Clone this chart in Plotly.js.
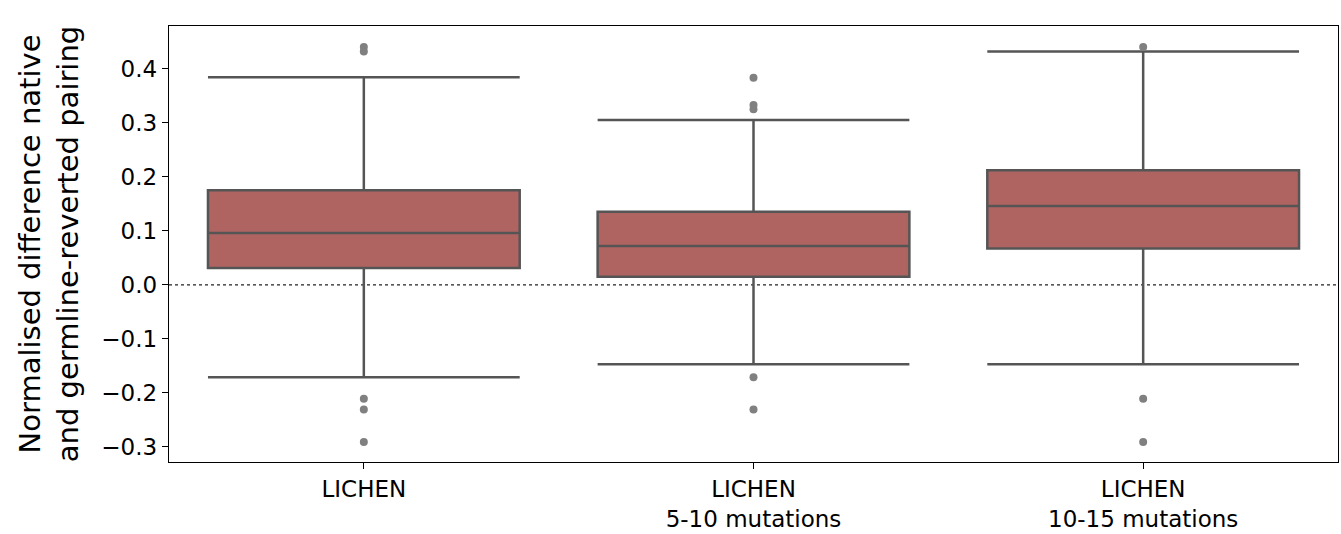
<!DOCTYPE html>
<html>
<head>
<meta charset="utf-8">
<script src="https://cdn.plot.ly/plotly-3.0.1.min.js"></script>
<style>html,body{margin:0;padding:0;background:#fff;}#chart{width:1341px;height:534px;}</style>
</head>
<body>
<div id="chart"></div>
<script>
const categories = ["LICHEN", "LICHEN<br>5-10 mutations", "LICHEN<br>10-15 mutations"];
const q1Values = [0.031, 0.015, 0.067];
const medianValues = [0.096, 0.072, 0.146];
const q3Values = [0.175, 0.135, 0.212];
const lowerWhisker = [-0.171, -0.147, -0.147];
const upperWhisker = [0.384, 0.305, 0.432];
const outlierCategory = [0, 0, 0, 0, 0, 1, 1, 1, 1, 1, 2, 2, 2];
const outlierValues = [0.432, 0.440, -0.211, -0.231, -0.291, 0.383, 0.325, 0.333, -0.171, -0.231, 0.440, -0.211, -0.291];
const tickValues = [-0.3, -0.2, -0.1, 0.0, 0.1, 0.2, 0.3, 0.4];
const tickLabels = ["\u22120.3", "\u22120.2", "\u22120.1", "0.0", "0.1", "0.2", "0.3", "0.4"];

const boxTrace = {
  type: "box",
  x: categories,
  q1: q1Values,
  median: medianValues,
  q3: q3Values,
  lowerfence: lowerWhisker,
  upperfence: upperWhisker,
  boxpoints: false,
  fillcolor: "rgb(176,100,98)",
  line: {color: "rgb(85,85,85)", width: 2.5},
  whiskerwidth: 1,
  width: 0.8,
  hoverinfo: "y"
};
const outlierTrace = {
  type: "scatter",
  mode: "markers",
  x: outlierCategory.map(i => categories[i]),
  y: outlierValues,
  marker: {color: "rgb(128,128,128)", size: 8, symbol: "circle"},
  hoverinfo: "y"
};

const layout = {
  width: 1341,
  height: 534,
  margin: {l: 169, r: 3, t: 26, b: 72},
  paper_bgcolor: "#fff",
  plot_bgcolor: "#fff",
  showlegend: false,
  font: {family: "DejaVu Sans, sans-serif", size: 23, color: "#000"},
  xaxis: {
    type: "category",
    range: [-0.5, 2.5],
    showgrid: false,
    zeroline: false,
    showline: true,
    mirror: true,
    linecolor: "#000",
    linewidth: 1.2,
    ticks: "outside",
    ticklen: 6,
    tickwidth: 1.2,
    tickcolor: "#000",
    tickfont: {size: 23}
  },
  yaxis: {
    range: [-0.328, 0.479],
    tickvals: tickValues,
    ticktext: tickLabels,
    showgrid: false,
    zeroline: false,
    showline: true,
    mirror: true,
    linecolor: "#000",
    linewidth: 1.2,
    ticks: "outside",
    ticklen: 6,
    tickwidth: 1.2,
    tickcolor: "#000",
    tickfont: {size: 23},
    title: {text: "Normalised difference native<br>and germline-reverted pairing", font: {size: 29}, standoff: 14}
  },
  shapes: [{
    type: "line", xref: "paper", x0: 0, x1: 1, yref: "y", y0: 0, y1: 0,
    line: {color: "#222", width: 1.2, dash: "dot"}, layer: "below"
  }]
};

Plotly.newPlot("chart", [boxTrace, outlierTrace], layout, {displayModeBar: false, staticPlot: true});
</script>
</body>
</html>
